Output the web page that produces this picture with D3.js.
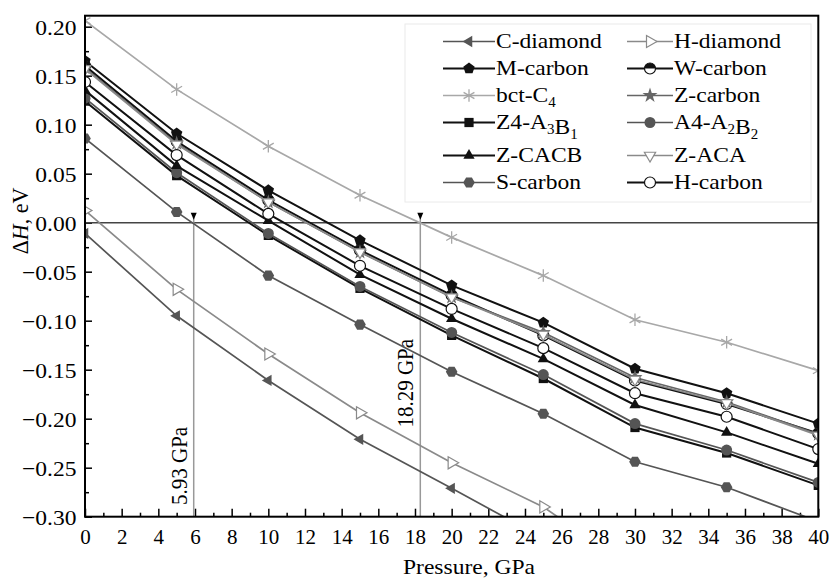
<!DOCTYPE html>
<html>
<head>
<meta charset="utf-8">
<script src="https://cdn.jsdelivr.net/npm/d3@7"></script>
<style>
  body { margin: 0; background: #fff; }
  text { font-family: "Liberation Serif", "Times New Roman", serif; }
</style>
</head>
<body>
<div id="chart"></div>
<script>
// pressure, GPa
let pressure = [0, 5, 10, 15, 20, 25, 30, 35, 40];

// enthalpy difference, eV (null = off the chart)
let cDiamond = [-0.011, -0.095, -0.161, -0.221, -0.271, -0.322, null, null, null];
let hDiamond = [0.0125, -0.068, -0.134, -0.194, -0.245, -0.290, -0.355, null, null];
let mCarbon  = [0.165, 0.091, 0.033, -0.018, -0.064, -0.102, -0.149, -0.174, -0.205];
let wCarbon  = [0.160, 0.083, 0.023, -0.028, -0.074, -0.115, -0.161, -0.185, -0.215];
let bctC4    = [0.206, 0.136, 0.078, 0.028, -0.015, -0.054, -0.099, -0.122, -0.151];
let zCarbon  = [0.158, 0.081, 0.021, -0.030, -0.076, -0.112, -0.158, -0.183, -0.216];
let z4A3B1   = [0.124, 0.048, -0.013, -0.067, -0.115, -0.159, -0.209, -0.235, -0.268];
let a4A2B2   = [0.127, 0.051, -0.011, -0.065, -0.112, -0.155, -0.205, -0.232, -0.265];
let zCACB    = [0.135, 0.058, 0.002, -0.053, -0.098, -0.139, -0.186, -0.214, -0.246];
let zACA     = [0.157, 0.080, 0.021, -0.030, -0.076, -0.114, -0.160, -0.184, -0.217];
let sCarbon  = [0.086, 0.011, -0.054, -0.104, -0.152, -0.195, -0.244, -0.270, -0.305];
let hCarbon  = [0.1435, 0.069, 0.009, -0.044, -0.088, -0.128, -0.174, -0.198, -0.231];

// "_x" = subscript x
let names = ["C-diamond", "H-diamond", "M-carbon", "W-carbon", "bct-C_4", "Z-carbon",
             "Z4-A_3B_1", "A4-A_2B_2", "Z-CACB", "Z-ACA", "S-carbon", "H-carbon"];
let values = [cDiamond, hDiamond, mCarbon, wCarbon, bctC4, zCarbon,
              z4A3B1, a4A2B2, zCACB, zACA, sCarbon, hCarbon];
let colors = ["#555", "#8a8a8a", "#111", "#111", "#a8a8a8", "#666",
              "#111", "#555", "#111", "#8a8a8a", "#555", "#111"];
let markers = ["triLeft", "triRightOpen", "pentagon", "halfCircle", "asterisk", "star",
               "square", "circle", "triUp", "triDownOpen", "hexagon", "circleOpen"];

// transition pressures
let transitions = [5.93, 18.29];
let transitionLabels = ["5.93 GPa", "18.29 GPa"];
let transitionLabelEnd = [-0.288, -0.209];

let xTicks = d3.range(0, 41, 2);
let xMinor = d3.range(1, 40, 2);
let yTicks = d3.range(-6, 5).map(k => k * 0.05);
let yMinor = d3.range(-6, 4).map(k => k * 0.05 + 0.025);

let width = 829, height = 579;
let pLeft = 85, pRight = 818.3, pTop = 15.7, pBottom = 516.7;
let stretch = "scale(1.07,1)";

let svg = d3.select("#chart").append("svg")
    .attr("width", width)
    .attr("height", height);

let x = d3.scaleLinear().domain([0, 40]).range([pLeft, pRight]);
let y = d3.scaleLinear().domain([-0.30, 0.2112]).range([pBottom, pTop]);

svg.append("defs").append("clipPath").attr("id", "plot")
    .append("rect")
    .attr("x", pLeft).attr("y", pTop)
    .attr("width", pRight - pLeft).attr("height", pBottom - pTop);

// axes (ticks point inwards)
function minorAxis(axis, vals, size) {
    return axis.tickValues(vals).tickSizeInner(-size).tickSizeOuter(0).tickFormat("");
}

let gxMinor = svg.append("g").attr("transform", `translate(0,${pBottom})`)
    .call(minorAxis(d3.axisBottom(x), xMinor, 4));
let gyMinor = svg.append("g").attr("transform", `translate(${pLeft},0)`)
    .call(minorAxis(d3.axisLeft(y), yMinor, 4));

let gx = svg.append("g").attr("transform", `translate(0,${pBottom})`)
    .call(d3.axisBottom(x).tickValues(xTicks).tickSizeInner(-8).tickSizeOuter(0));

let gy = svg.append("g").attr("transform", `translate(${pLeft},0)`)
    .call(d3.axisLeft(y).tickValues(yTicks).tickSizeInner(-7).tickSizeOuter(0)
          .tickFormat(d3.format(".2f")));

[gxMinor, gyMinor, gx, gy].forEach(g => {
    g.select(".domain").remove();
    g.attr("font-size", 22);
    g.selectAll("line").attr("stroke", "#000").attr("stroke-width", 1.5);
    g.selectAll("text").attr("fill", "#000");
});

gx.selectAll("text").attr("y", 27).attr("dy", null).attr("font-size", 21);
gy.selectAll("text").attr("x", -8).attr("dy", "0.35em").attr("transform", stretch);

// axis titles
svg.append("text")
    .attr("transform", `translate(469,574) ${stretch}`)
    .attr("text-anchor", "middle")
    .attr("font-size", 22)
    .text("Pressure, GPa");

let yTitle = svg.append("text")
    .attr("transform", `translate(28,221) ${stretch} rotate(-90)`)
    .attr("text-anchor", "middle")
    .attr("font-size", 22);
yTitle.append("tspan").text("\u0394");
yTitle.append("tspan").attr("font-style", "italic").text("H");
yTitle.append("tspan").text(", eV");

// zero line
svg.append("line")
    .attr("x1", pLeft).attr("x2", pRight)
    .attr("y1", y(0)).attr("y2", y(0))
    .attr("stroke", "#444").attr("stroke-width", 1.6);

// transition markers
transitions.forEach(function (p, i) {
    svg.append("line")
        .attr("x1", x(p)).attr("x2", x(p))
        .attr("y1", y(0) - 9).attr("y2", pBottom)
        .attr("stroke", "#999").attr("stroke-width", 1.5);
    svg.append("path")
        .attr("d", `M${x(p) - 3},${y(0) - 10}L${x(p) + 3},${y(0) - 10}L${x(p)},${y(0) - 3}Z`)
        .attr("fill", "#000");
    svg.append("text")
        .attr("transform", `translate(${x(p) - 7},${y(transitionLabelEnd[i])}) ${stretch} rotate(-90)`)
        .attr("font-size", 21)
        .text(transitionLabels[i]);
});

// marker shapes
function polygon(n, r, rot) {
    let pts = d3.range(n).map(k => {
        let a = rot + k * 2 * Math.PI / n;
        return [r * Math.cos(a), r * Math.sin(a)];
    });
    return "M" + pts.join("L") + "Z";
}

function drawMarker(g, type, color) {
    let r = 5.5;
    if (type == "triLeft") {
        g.append("path").attr("d", polygon(3, 6.5, Math.PI)).attr("fill", color);
    } else if (type == "triRightOpen") {
        g.append("path").attr("d", polygon(3, 7, 0)).attr("fill", "#fff")
            .attr("stroke", color).attr("stroke-width", 1.2);
    } else if (type == "triUp") {
        g.append("path").attr("d", polygon(3, 6.5, -Math.PI / 2)).attr("fill", color);
    } else if (type == "triDownOpen") {
        g.append("path").attr("d", polygon(3, 6.5, Math.PI / 2)).attr("fill", "#fff")
            .attr("stroke", color).attr("stroke-width", 1.2);
    } else if (type == "pentagon") {
        g.append("path").attr("d", polygon(5, 6, -Math.PI / 2)).attr("fill", color);
    } else if (type == "hexagon") {
        g.append("path").attr("d", polygon(6, 5.8, 0)).attr("fill", color);
    } else if (type == "square") {
        g.append("path").attr("d", d3.symbol(d3.symbolSquare, 85)()).attr("fill", color);
    } else if (type == "circle") {
        g.append("circle").attr("r", r).attr("fill", color);
    } else if (type == "circleOpen") {
        g.append("circle").attr("r", r).attr("fill", "#fff")
            .attr("stroke", color).attr("stroke-width", 1.2);
    } else if (type == "halfCircle") {
        g.append("circle").attr("r", r).attr("fill", "#fff")
            .attr("stroke", color).attr("stroke-width", 1.2);
        g.append("path").attr("d", `M${-r},0A${r},${r} 0 0 1 ${r},0Z`).attr("fill", color);
    } else if (type == "star") {
        g.append("path").attr("d", d3.symbol(d3.symbolStar, 70)()).attr("fill", color);
    } else if (type == "asterisk") {
        g.append("path").attr("d", d3.symbol(d3.symbolAsterisk, 110)())
            .attr("fill", "none").attr("stroke", color).attr("stroke-width", 1.3);
    }
}

// series
let line = d3.line()
    .defined(d => d.v != null)
    .x(d => x(d.p))
    .y(d => y(d.v));

let plot = svg.append("g").attr("clip-path", "url(#plot)");

names.forEach(function (name, i) {
    let pts = pressure.map((p, j) => ({p: p, v: values[i][j]}));
    let black = colors[i] == "#111";
    plot.append("path")
        .datum(pts)
        .attr("d", line)
        .attr("fill", "none")
        .attr("stroke", colors[i])
        .attr("stroke-width", black ? 2 : 1.7);
    plot.selectAll(".m" + i)
        .data(pts.filter(d => d.v != null))
        .enter().append("g")
        .attr("class", "m" + i)
        .attr("transform", d => `translate(${x(d.p)},${y(d.v)})`)
        .each(function () { drawMarker(d3.select(this), markers[i], colors[i]); });
});

// frame
svg.append("rect")
    .attr("x", pLeft).attr("y", pTop)
    .attr("width", pRight - pLeft).attr("height", pBottom - pTop)
    .attr("fill", "none").attr("stroke", "#000").attr("stroke-width", 2);

// legend
let legend = svg.append("g");
legend.append("rect")
    .attr("x", 405).attr("y", 24).attr("width", 406).attr("height", 178)
    .attr("fill", "#fff").attr("stroke", "#eaeaea").attr("stroke-width", 1);

let colLine = [[443, 495], [627, 673]];

names.forEach(function (name, i) {
    let row = Math.floor(i / 2), col = i % 2;
    let base = 48 + row * 27 + (row >= 4 ? 6 : 0);
    let cy = base - 6.5;
    let [x1, x2] = colLine[col];
    legend.append("line")
        .attr("x1", x1).attr("x2", x2).attr("y1", cy).attr("y2", cy)
        .attr("stroke", colors[i]).attr("stroke-width", colors[i] == "#111" ? 2 : 1.7);
    drawMarker(legend.append("g").attr("transform", `translate(${(x1 + x2) / 2},${cy})`),
               markers[i], colors[i]);
    let t = legend.append("text")
        .attr("transform", `translate(${x2 + 1},${base}) ${stretch}`)
        .attr("font-size", 22);
    name.split(/(_.)/).filter(s => s.length).forEach(function (part) {
        if (part[0] == "_") {
            t.append("tspan").attr("font-size", 14).attr("dy", 5).text(part[1]);
            t.append("tspan").attr("dy", -5).text("");
        } else {
            t.append("tspan").text(part);
        }
    });
});
</script>
</body>
</html>
